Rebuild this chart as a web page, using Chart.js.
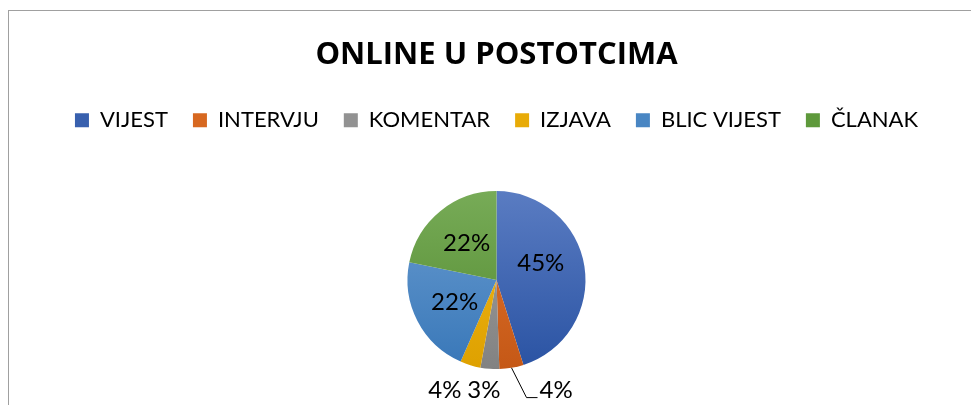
<!DOCTYPE html>
<html>
<head>
<meta charset="utf-8">
<script src="https://cdn.jsdelivr.net/npm/chart.js@4.4.0/dist/chart.umd.min.js"></script>
<style>
  html, body { margin: 0; padding: 0; background: #fff; overflow: hidden; }
  #frame {
    position: absolute; left: 8px; top: 10px; width: 2000px; height: 1000px;
    border-top: 1px solid #a0a0a0; border-left: 1px solid #a0a0a0;
  }
  #wrap { position: absolute; left: 0; top: 0; width: 993px; height: 419px; }
</style>
</head>
<body>
<div id="frame"></div>
<div id="wrap"><canvas id="pie"></canvas></div>
<script>
// categories and their shares (percent)
const categories = ['VIJEST', 'INTERVJU', 'KOMENTAR', 'IZJAVA', 'BLIC VIJEST', 'ČLANAK'];
const shares = [45.1, 4.4, 3.4, 3.7, 21.6, 21.8];

// colours: light top / dark bottom of each slice, and a flat one for the legend
const topColors = ['#5a7cc2', '#e07530', '#a1a1a1', '#f2b81a', '#6b9dd1', '#77ab57'];
const bottomColors = ['#2a53a3', '#c55816', '#828282', '#dea100', '#3877b8', '#528a2f'];
const legendColors = ['#3860ae', '#d76820', '#929292', '#e8ab07', '#4986c3', '#5e993b'];

const pieRadius = 89;

// percentage labels, small slices get theirs below the pie
const sliceLabels = {
    id: 'sliceLabels',
    afterDatasetsDraw(chart) {
        const ctx = chart.ctx;
        const meta = chart.getDatasetMeta(0);
        const total = shares.reduce((a, b) => a + b, 0);
        let prevLeft = Infinity;
        ctx.save();
        ctx.font = '24px Lato';
        ctx.fillStyle = '#000';
        ctx.strokeStyle = '#000';
        ctx.lineWidth = 1;
        ctx.textBaseline = 'middle';
        meta.data.forEach((arc, i) => {
            const p = arc.getProps(['x', 'y', 'startAngle', 'endAngle', 'outerRadius'], true);
            let mid = (p.startAngle + p.endAngle) / 2;
            const share = shares[i] / total;
            const text = Math.round(share * 100) + '%';
            if (share > 0.1) {
                // big slices: label inside, pulled a bit toward the top for the widest one
                if (share > 0.4) mid -= 0.2;
                const d = p.outerRadius * 0.53;
                ctx.textAlign = 'center';
                ctx.fillText(text, p.x + Math.cos(mid) * d, p.y + Math.sin(mid) * d);
                return;
            }
            const ax = p.x + Math.cos(mid) * p.outerRadius;
            const ay = p.y + Math.sin(mid) * p.outerRadius;
            const ly = p.y + p.outerRadius + 21;
            if (ax > p.x) {
                // leader line to the right
                ctx.beginPath();
                ctx.moveTo(ax, ay);
                ctx.lineTo(ax + 15, ly + 7.5);
                ctx.lineTo(ax + 26, ly + 7.5);
                ctx.stroke();
                ctx.textAlign = 'left';
                ctx.fillText(text, ax + 28, ly);
            } else {
                const lx = Math.min(ax - 6, prevLeft - 39);
                prevLeft = lx;
                ctx.textAlign = 'center';
                ctx.fillText(text, lx, ly);
            }
        });
        ctx.restore();
    }
};

new Chart(document.getElementById('pie'), {
    type: 'pie',
    data: {
        labels: categories,
        datasets: [{
            data: shares,
            radius: pieRadius,
            borderWidth: 0,
            backgroundColor(context) {
                const area = context.chart.chartArea;
                const i = context.dataIndex;
                if (!area) return legendColors[i];
                const cy = (area.top + area.bottom) / 2;
                const g = context.chart.ctx.createLinearGradient(0, cy - pieRadius, 0, cy + pieRadius);
                g.addColorStop(0, topColors[i]);
                g.addColorStop(1, bottomColors[i]);
                return g;
            }
        }]
    },
    options: {
        responsive: true,
        maintainAspectRatio: false,
        animation: false,
        layout: { padding: 0 },
        plugins: {
            title: {
                display: true,
                text: 'ONLINE U POSTOTCIMA',
                color: '#000',
                font: { family: 'Open Sans', size: 31, weight: 'bold' },
                padding: { top: 37, bottom: 10 }
            },
            legend: {
                position: 'top',
                labels: {
                    color: '#000',
                    font: { family: 'Lato', size: 22 },
                    boxWidth: 14,
                    boxHeight: 14,
                    padding: 25,
                    generateLabels() {
                        return categories.map((c, i) => ({
                            text: c,
                            fillStyle: legendColors[i],
                            strokeStyle: legendColors[i],
                            lineWidth: 0,
                            hidden: false,
                            index: i
                        }));
                    }
                }
            },
            tooltip: { enabled: false }
        }
    },
    plugins: [sliceLabels]
});
</script>
</body>
</html>
